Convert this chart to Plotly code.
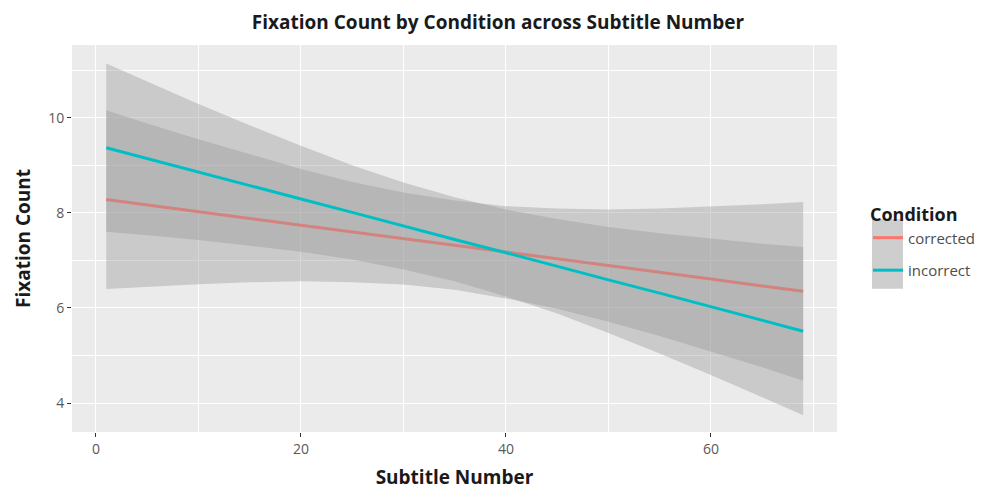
import plotly.graph_objects as go

# Sampled subtitle numbers for the fitted lines and confidence ribbons
subtitle = [1, 5, 10, 15, 20, 25, 30, 35, 40, 45, 50, 55, 60, 65, 69]

corrected_fit = [8.28, 8.17, 8.03, 7.88, 7.74, 7.60, 7.46, 7.32, 7.17, 7.03, 6.89, 6.75, 6.61, 6.46, 6.35]
corrected_lo = [6.40, 6.45, 6.50, 6.54, 6.56, 6.54, 6.49, 6.38, 6.20, 5.98, 5.71, 5.41, 5.08, 4.75, 4.47]
corrected_hi = [10.16, 9.88, 9.55, 9.23, 8.92, 8.65, 8.43, 8.26, 8.14, 8.09, 8.07, 8.09, 8.13, 8.18, 8.23]

incorrect_fit = [9.37, 9.14, 8.86, 8.58, 8.29, 8.01, 7.72, 7.44, 7.16, 6.87, 6.59, 6.31, 6.02, 5.74, 5.51]
incorrect_lo = [7.60, 7.53, 7.43, 7.31, 7.18, 7.02, 6.81, 6.56, 6.24, 5.88, 5.47, 5.04, 4.59, 4.12, 3.74]
incorrect_hi = [11.14, 10.76, 10.29, 9.84, 9.41, 9.00, 8.64, 8.33, 8.07, 7.87, 7.70, 7.57, 7.46, 7.35, 7.28]

conditions = ["corrected", "incorrect"]
colors = {"corrected": "#F8766D", "incorrect": "#00BFC4"}
series = {
    "corrected": (corrected_fit, corrected_lo, corrected_hi),
    "incorrect": (incorrect_fit, incorrect_lo, incorrect_hi),
}

x_ticks = [0, 20, 40, 60]
y_ticks = [4, 6, 8, 10]

RIBBON = "rgba(153,153,153,0.4)"
FONT = "Open Sans"

fig = go.Figure()
for cond in conditions:
    fit, lo, hi = series[cond]
    fig.add_trace(go.Scatter(
        x=subtitle + subtitle[::-1],
        y=hi + lo[::-1],
        fill="toself", fillcolor=RIBBON, line=dict(width=0),
        mode="lines", showlegend=False, hoverinfo="skip",
    ))
    fig.add_trace(go.Scatter(
        x=subtitle, y=fit, mode="lines", name=cond, legendgroup=cond,
        line=dict(color=colors[cond], width=3),
    ))

# panel: x 72..837, y 45..434 px
fig.update_layout(
    width=996, height=496,
    margin=dict(l=72, r=159, t=45, b=62),
    paper_bgcolor="white",
    plot_bgcolor="#EBEBEB",
    font=dict(family=FONT, color="#595959"),
    title=dict(
        text="<b>Fixation Count by Condition across Subtitle Number</b>",
        x=0.5, xref="container", xanchor="center",
        y=1 - 22 / 496, yref="container", yanchor="middle",
        font=dict(family=FONT, size=19, color="#1a1a1a"),
    ),
    legend=dict(
        title=dict(text="<b>Condition</b>", font=dict(family=FONT, size=18, color="#1a1a1a")),
        font=dict(family=FONT, size=15, color="#4d4d4d"),
        x=1.0405, xanchor="left", y=0.6046, yanchor="top",
        bgcolor="rgba(0,0,0,0)", tracegroupgap=10,
    ),
    shapes=[dict(
        type="rect", xref="paper", yref="paper",
        x0=(872 - 72) / 765, x1=(903 - 72) / 765,
        y0=(434 - 290) / 389, y1=(434 - 220) / 389,
        fillcolor="#CECECE", line=dict(width=0), layer="below",
    )],
)
fig.update_xaxes(
    range=[-2.34, 72.3], tickvals=x_ticks, showgrid=True, gridcolor="white", gridwidth=1.4,
    minor=dict(dtick=10, tick0=0, showgrid=True, gridcolor="white", gridwidth=0.7),
    zeroline=False, ticks="outside", ticklen=4, tickcolor="#333333",
    tickfont=dict(size=14, color="#595959"),
    title=dict(text="<b>Subtitle Number</b>", standoff=13,
               font=dict(family=FONT, size=19, color="#1a1a1a")),
)
fig.update_yaxes(
    range=[3.39, 11.53], tickvals=y_ticks, showgrid=True, gridcolor="white", gridwidth=1.4,
    minor=dict(dtick=1, tick0=0, showgrid=True, gridcolor="white", gridwidth=0.7),
    zeroline=False, ticks="outside", ticklen=4, tickcolor="#333333",
    tickfont=dict(size=14, color="#595959"),
    title=dict(text="<b>Fixation Count</b>", standoff=12,
               font=dict(family=FONT, size=19, color="#1a1a1a")),
)

fig.write_html("out.html")
